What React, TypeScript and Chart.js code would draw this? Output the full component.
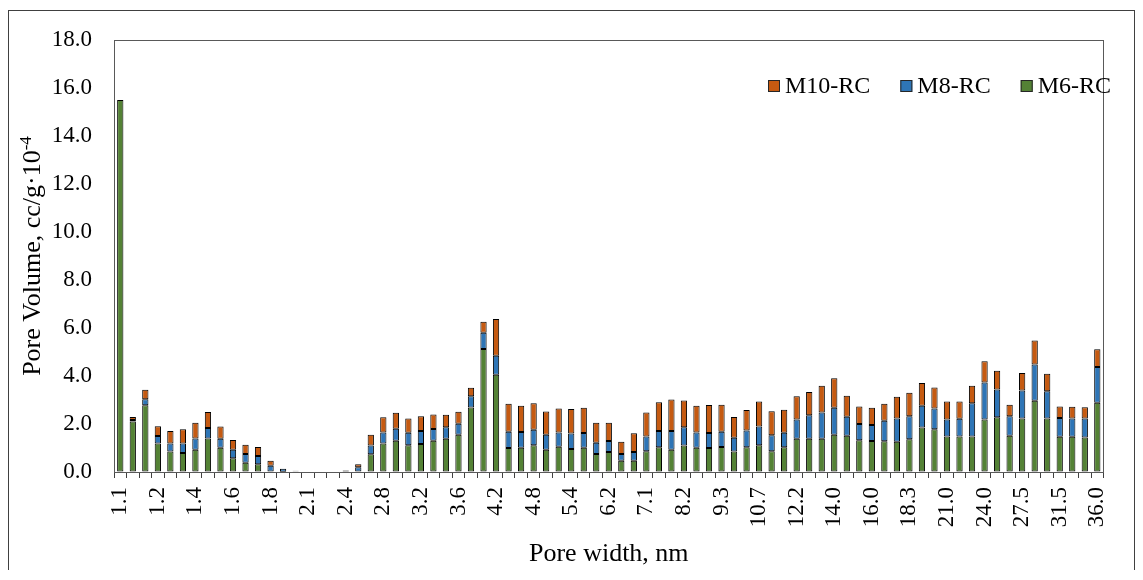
import React, { useEffect, useRef } from 'react';
import { Chart, registerables } from 'chart.js';

Chart.register(...registerables);

const poreWidths: string[] = [
  '1.1', '1.1', '1.2', '1.2', '1.3', '1.3', '1.4', '1.5', '1.5', '1.6',
  '1.7', '1.7', '1.8', '1.9', '2.0', '2.1', '2.2', '2.3', '2.4', '2.5',
  '2.7', '2.8', '2.9', '3.1', '3.2', '3.3', '3.5', '3.6', '3.8', '4.0',
  '4.2', '4.4', '4.6', '4.8', '5.0', '5.2', '5.4', '5.7', '5.9', '6.2',
  '6.5', '6.8', '7.1', '7.5', '7.8', '8.2', '8.6', '8.9', '9.3', '9.8',
  '10.2', '10.7', '11.2', '11.7', '12.2', '12.8', '13.4', '14.0', '14.6', '15.3',
  '16.0', '16.7', '17.5', '18.3', '19.2', '20.0', '21.0', '22.0', '23.0', '24.0',
  '25.1', '26.3', '27.5', '28.8', '30.1', '31.5', '32.9', '34.4', '36.0',
];

const m6rc: number[] = [
  15.5, 2.1, 2.78, 1.19, 0.85, 0.79, 0.93, 1.4, 1.01, 0.57,
  0.39, 0.32, 0.02, 0.01, 0.0, 0, 0, 0, 0, 0.02,
  0.74, 1.19, 1.3, 1.11, 1.17, 1.3, 1.39, 1.55, 2.69, 5.13,
  4.05, 1.0, 1.01, 1.11, 0.93, 1.05, 0.96, 1.01, 0.75, 0.83,
  0.47, 0.47, 0.86, 1.03, 0.93, 1.1, 1.01, 1.0, 1.04, 0.85,
  1.03, 1.11, 0.86, 1.03, 1.39, 1.39, 1.39, 1.55, 1.51, 1.32,
  1.29, 1.28, 1.26, 1.36, 1.85, 1.78, 1.48, 1.48, 1.48, 2.19,
  2.28, 1.51, 2.23, 2.97, 2.23, 1.47, 1.47, 1.44, 2.89,
];

const m8rc: number[] = [
  0, 0.07, 0.25, 0.31, 0.34, 0.4, 0.47, 0.43, 0.38, 0.36,
  0.36, 0.35, 0.24, 0.13, 0.03, 0, 0, 0, 0.06, 0.18,
  0.36, 0.46, 0.5, 0.53, 0.54, 0.49, 0.47, 0.46, 0.47, 0.67,
  0.79, 0.68, 0.66, 0.65, 0.62, 0.6, 0.64, 0.61, 0.47, 0.46,
  0.28, 0.36, 0.62, 0.68, 0.78, 0.76, 0.64, 0.62, 0.64, 0.58,
  0.7, 0.79, 0.67, 0.61, 0.8, 0.97, 1.09, 1.13, 0.79, 0.68,
  0.67, 0.86, 0.97, 0.96, 0.91, 0.87, 0.71, 0.74, 1.38, 1.54,
  1.16, 0.81, 1.17, 1.51, 1.13, 0.78, 0.76, 0.79, 1.48,
];

const m10rc: number[] = [
  0, 0.12, 0.4, 0.41, 0.52, 0.59, 0.65, 0.67, 0.51, 0.4,
  0.39, 0.37, 0.21, 0, 0.02, 0, 0, 0, 0, 0.12,
  0.45, 0.63, 0.67, 0.59, 0.61, 0.61, 0.53, 0.5, 0.35, 0.46,
  1.54, 1.16, 1.09, 1.1, 0.97, 1.0, 1.02, 1.06, 0.83, 0.76,
  0.51, 0.78, 1.0, 1.2, 1.31, 1.12, 1.11, 1.17, 1.12, 0.86,
  0.85, 1.04, 1.0, 0.95, 0.97, 0.97, 1.11, 1.23, 0.88, 0.73,
  0.72, 0.7, 0.91, 0.98, 0.95, 0.87, 0.75, 0.72, 0.73, 0.88,
  0.78, 0.48, 0.73, 1.0, 0.73, 0.48, 0.49, 0.47, 0.74,
];

const seriesLabels = ['M6-RC', 'M8-RC', 'M10-RC'];
const seriesColors = ['#548235', '#2E75B6', '#C55A11'];
const yMin = 0;
const yMax = 18;
const yStep = 2;
const xTitle = 'Pore width, nm';
const yTitleMain = 'Pore Volume, cc/g·10';
const yTitleSup = '-4';

const FONT = '"Liberation Serif", "Times New Roman", serif';

const plotBorder = {
  id: 'plotBorder',
  afterDraw(chart: any) {
    const { ctx, chartArea } = chart;
    ctx.save();
    ctx.strokeStyle = '#595959';
    ctx.lineWidth = 1;
    ctx.strokeRect(
      Math.round(chartArea.left) + 0.5,
      Math.round(chartArea.top) + 0.5,
      Math.round(chartArea.right - chartArea.left) - 1,
      Math.round(chartArea.bottom - chartArea.top)
    );
    ctx.restore();
  },
};

const yTitlePlugin = {
  id: 'yTitlePlugin',
  afterDraw(chart: any) {
    const { ctx, chartArea } = chart;
    const cy = (chartArea.top + chartArea.bottom) / 2;
    ctx.save();
    ctx.translate(31, cy);
    ctx.rotate(-Math.PI / 2);
    ctx.fillStyle = '#000';
    ctx.textBaseline = 'alphabetic';
    ctx.textAlign = 'left';
    ctx.font = `26px ${FONT}`;
    const w1 = ctx.measureText(yTitleMain).width;
    ctx.font = `17px ${FONT}`;
    const w2 = ctx.measureText(yTitleSup).width;
    const start = -(w1 + w2) / 2;
    ctx.font = `26px ${FONT}`;
    ctx.fillText(yTitleMain, start, 0);
    ctx.font = `17px ${FONT}`;
    ctx.fillText(yTitleSup, start + w1, -9);
    ctx.restore();
  },
};

const legendPlugin = {
  id: 'customLegend',
  afterDraw(chart: any) {
    const { ctx } = chart;
    const items = chart.data.datasets
      .map((d: any) => ({ label: d.label, color: d.backgroundColor }))
      .reverse();
    ctx.save();
    ctx.font = `24px ${FONT}`;
    ctx.textBaseline = 'middle';
    ctx.textAlign = 'left';
    let x = 759;
    const boxY = 69;
    const box = 12;
    for (const it of items) {
      ctx.fillStyle = it.color;
      ctx.fillRect(x, boxY, box, box);
      ctx.strokeStyle = '#262626';
      ctx.lineWidth = 1;
      ctx.strokeRect(x + 0.5, boxY + 0.5, box - 1, box - 1);
      ctx.fillStyle = '#000';
      ctx.fillText(it.label, x + 17, boxY + box / 2 + 1);
      const w = ctx.measureText(it.label).width;
      x += 17 + w + 30;
    }
    ctx.restore();
  },
};

export default function App() {
  const canvasRef = useRef<HTMLCanvasElement | null>(null);

  useEffect(() => {
    if (!canvasRef.current) return;
    const seriesData = [m6rc, m8rc, m10rc];
    const chart = new Chart(canvasRef.current, {
      type: 'bar',
      data: {
        labels: poreWidths,
        datasets: seriesLabels.map((label, i) => ({
          label,
          data: seriesData[i],
          backgroundColor: seriesColors[i],
          borderColor: '#000000',
          borderWidth: 1,
          borderSkipped: false,
          categoryPercentage: 1,
          barPercentage: 0.5,
        })),
      },
      options: {
        responsive: false,
        animation: false,
        devicePixelRatio: 1,
        layout: { padding: { left: 0, top: 29, right: 15, bottom: 0 } },
        plugins: {
          legend: { display: false },
          tooltip: { enabled: false },
        },
        scales: {
          x: {
            stacked: true,
            offset: true,
            grid: {
              display: true,
              drawOnChartArea: false,
              drawTicks: true,
              tickLength: 6,
              color: '#404040',
              offset: true,
            },
            border: { display: true, color: '#404040' },
            ticks: {
              autoSkip: false,
              maxRotation: 90,
              minRotation: 90,
              padding: 9,
              color: '#000',
              font: { family: FONT, size: 23 },
              callback: (_v: any, index: number) => (index % 3 === 0 ? poreWidths[index] : ''),
            },
            title: {
              display: true,
              text: xTitle,
              color: '#000',
              font: { family: FONT, size: 26 },
              padding: { top: 0, bottom: 1 },
            },
            afterFit: (scale: any) => {
              scale.height = 99;
            },
          },
          y: {
            stacked: true,
            min: yMin,
            max: yMax,
            grid: {
              display: true,
              drawOnChartArea: false,
              drawTicks: true,
              tickLength: 22,
              color: 'rgba(0,0,0,0)',
            },
            border: { display: true, color: '#595959' },
            ticks: {
              stepSize: yStep,
              padding: 0,
              color: '#000',
              font: { family: FONT, size: 23 },
              callback: (v: any) => Number(v).toFixed(1),
            },
            afterFit: (scale: any) => {
              scale.width = 105;
            },
          },
        },
      },
      plugins: [plotBorder, yTitlePlugin, legendPlugin],
    });
    return () => chart.destroy();
  }, []);

  return (
    <div
      style={{
        position: 'relative',
        top: 2,
        width: 1127,
        height: 562,
        border: '1px solid #404040',
        boxSizing: 'border-box',
        background: '#fff',
      }}
    >
      <canvas ref={canvasRef} width={1125} height={560} style={{ display: 'block' }} />
    </div>
  );
}
